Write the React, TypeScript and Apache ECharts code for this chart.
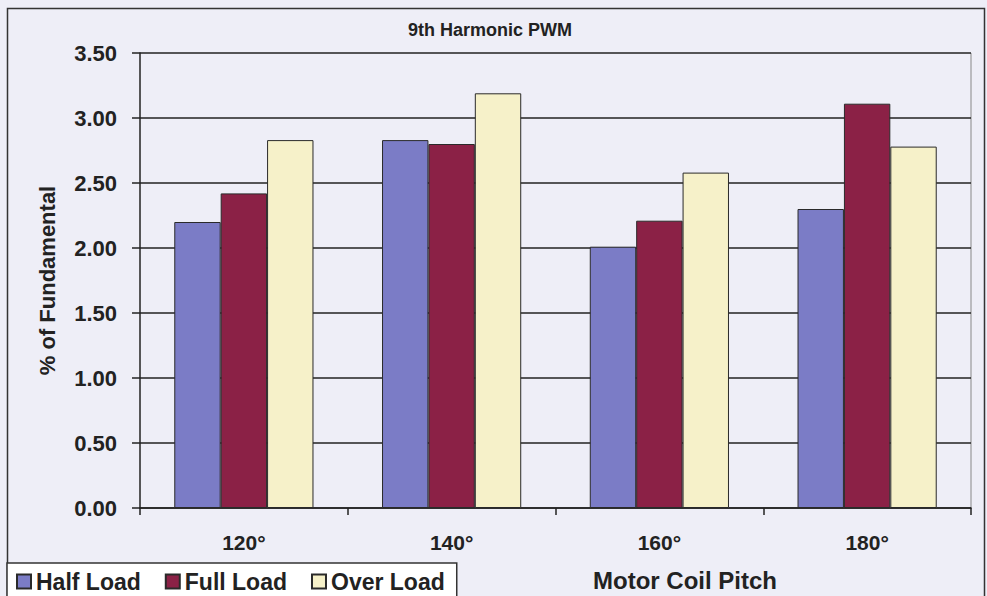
import React, { useEffect, useRef } from "react";
import * as echarts from "echarts";

const categories = ["120°", "140°", "160°", "180°"];
const halfLoad = [2.2, 2.83, 2.01, 2.3];
const fullLoad = [2.42, 2.8, 2.21, 3.11];
const overLoad = [2.83, 3.19, 2.58, 2.78];
const seriesNames = ["Half Load", "Full Load", "Over Load"];
const seriesColors = ["#7b7cc6", "#8b2146", "#f6f1c9"];

const FONT = "'Liberation Sans', Arial, sans-serif";

export default function App() {
  const ref = useRef<HTMLDivElement>(null);
  useEffect(() => {
    if (!ref.current) return;
    const chart = echarts.init(ref.current, undefined, { renderer: "svg" });
    const data = [halfLoad, fullLoad, overLoad];
    chart.setOption({
      animation: false,
      backgroundColor: "#eeeef7",
      textStyle: { fontFamily: FONT },
      title: {
        text: "9th Harmonic PWM",
        left: 485,
        textAlign: "center",
        top: 16,
        textStyle: { fontSize: 18, fontWeight: "bold", color: "#222", fontFamily: FONT },
      },
      graphic: [
        {
          type: "rect",
          shape: { x: 7.5, y: 8.5, width: 977, height: 600 },
          style: { fill: "none", stroke: "#333", lineWidth: 1.5 },
          silent: true,
        },
        {
          type: "line",
          shape: { x1: 971, y1: 53, x2: 971, y2: 508 },
          style: { stroke: "#888", lineWidth: 1 },
          silent: true,
        },
        {
          type: "text",
          left: 593,
          top: 568,
          style: { text: "Motor Coil Pitch", font: `bold 24px ${FONT}`, fill: "#222" },
        },
      ],
      legend: {
        left: 7,
        top: 563,
        padding: [7, 12, 10, 9],
        itemGap: 24,
        itemWidth: 14,
        itemHeight: 14,
        icon: "rect",
        backgroundColor: "#ffffff",
        borderColor: "#333",
        borderWidth: 1.5,
        borderRadius: 0,
        textStyle: { fontSize: 23, fontWeight: "bold", color: "#222", fontFamily: FONT },
        data: seriesNames,
      },
      grid: { left: 140, right: 16, top: 53, bottom: 88 },
      xAxis: {
        type: "category",
        data: categories,
        axisLine: { lineStyle: { color: "#222", width: 1.5 } },
        axisTick: { show: true, length: 7, lineStyle: { color: "#222", width: 1.5 } },
        axisLabel: { fontSize: 21, fontWeight: "bold", color: "#222", margin: 24, fontFamily: FONT },
      },
      yAxis: {
        type: "value",
        min: 0,
        max: 3.5,
        interval: 0.5,
        name: "% of Fundamental",
        nameLocation: "middle",
        nameGap: 82,
        nameTextStyle: { fontSize: 22, fontWeight: "bold", color: "#222", fontFamily: FONT },
        axisLine: { show: true, lineStyle: { color: "#222", width: 1.5 } },
        axisTick: { show: true, length: 8, lineStyle: { color: "#222", width: 1.5 } },
        axisLabel: {
          fontSize: 22,
          fontWeight: "bold",
          color: "#222",
          margin: 23,
          fontFamily: FONT,
          formatter: (v: number) => v.toFixed(2),
        },
        splitLine: { lineStyle: { color: "#222", width: 1.5 } },
      },
      series: seriesNames.map((name, i) => ({
        name,
        type: "bar",
        data: data[i],
        barGap: "0%",
        barCategoryGap: "33%",
        itemStyle: { color: seriesColors[i], borderColor: "#2a2a2a", borderWidth: 1 },
      })),
    });
    return () => chart.dispose();
  }, []);
  return (
    <div
      ref={ref}
      style={{ position: "fixed", left: 0, top: 0, width: 987, height: 596 }}
    />
  );
}
